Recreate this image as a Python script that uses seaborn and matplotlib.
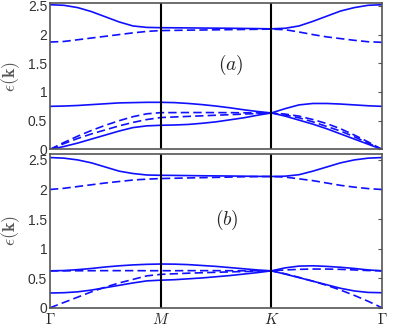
import numpy as np
import pandas as pd
import matplotlib
matplotlib.use("Agg")
import matplotlib.pyplot as plt
import seaborn as sns

# chemin Gamma - M - K - Gamma, pas de 1/8
k = np.linspace(0, 3, 25)

# panneau (a)
a_s4 = [2.52, 2.51, 2.47, 2.40, 2.31, 2.22, 2.15, 2.125, 2.12,
        2.118, 2.116, 2.114, 2.112, 2.11, 2.107, 2.104, 2.10,
        2.11, 2.15, 2.23, 2.32, 2.41, 2.47, 2.51, 2.52]
a_d4 = [1.87, 1.88, 1.91, 1.94, 1.97, 2.00, 2.03, 2.055, 2.07,
        2.073, 2.077, 2.08, 2.083, 2.086, 2.089, 2.092, 2.095,
        2.085, 2.045, 2.00, 1.96, 1.93, 1.90, 1.875, 1.865]
a_s3 = [0.75, 0.755, 0.765, 0.78, 0.795, 0.81, 0.815, 0.82, 0.82,
        0.815, 0.80, 0.78, 0.755, 0.725, 0.69, 0.66, 0.635,
        0.71, 0.775, 0.80, 0.80, 0.79, 0.775, 0.76, 0.75]
a_d3 = [0.0, 0.12, 0.23, 0.33, 0.42, 0.50, 0.57, 0.62, 0.64,
        0.641, 0.642, 0.642, 0.641, 0.64, 0.638, 0.636, 0.635,
        0.615, 0.58, 0.52, 0.45, 0.36, 0.25, 0.13, 0.0]
a_d2 = [0.0, 0.10, 0.19, 0.27, 0.34, 0.41, 0.47, 0.52, 0.555,
        0.565, 0.575, 0.585, 0.595, 0.605, 0.615, 0.625, 0.635,
        0.60, 0.55, 0.48, 0.40, 0.32, 0.22, 0.11, 0.0]
a_s1 = [0.0, 0.05, 0.11, 0.18, 0.25, 0.32, 0.38, 0.41, 0.42,
        0.425, 0.435, 0.455, 0.48, 0.515, 0.55, 0.595, 0.635,
        0.58, 0.51, 0.44, 0.36, 0.27, 0.18, 0.09, 0.0]

# panneau (b)
b_s4 = [2.54, 2.53, 2.50, 2.45, 2.38, 2.31, 2.27, 2.245, 2.24,
        2.238, 2.235, 2.232, 2.23, 2.228, 2.225, 2.222, 2.22,
        2.225, 2.25, 2.31, 2.38, 2.45, 2.50, 2.53, 2.54]
b_d4 = [2.0, 2.02, 2.05, 2.08, 2.11, 2.135, 2.16, 2.175, 2.185,
        2.19, 2.195, 2.20, 2.205, 2.21, 2.215, 2.218, 2.22,
        2.21, 2.18, 2.15, 2.11, 2.07, 2.04, 2.015, 2.0]
b_s3 = [0.625, 0.63, 0.645, 0.665, 0.69, 0.71, 0.725, 0.735, 0.74,
        0.738, 0.73, 0.715, 0.70, 0.68, 0.66, 0.64, 0.625,
        0.675, 0.705, 0.71, 0.70, 0.685, 0.665, 0.64, 0.625]
b_d3 = [0.625, 0.625, 0.626, 0.627, 0.628, 0.628, 0.628, 0.627, 0.627,
        0.627, 0.628, 0.628, 0.628, 0.627, 0.626, 0.625, 0.625,
        0.64, 0.65, 0.655, 0.655, 0.65, 0.64, 0.63, 0.625]
b_d2 = [0.0, 0.09, 0.18, 0.27, 0.35, 0.42, 0.48, 0.54, 0.565,
        0.575, 0.585, 0.593, 0.60, 0.607, 0.613, 0.62, 0.625,
        0.575, 0.515, 0.45, 0.38, 0.30, 0.21, 0.11, 0.0]
b_s1 = [0.25, 0.255, 0.27, 0.30, 0.34, 0.38, 0.42, 0.455, 0.467,
        0.475, 0.49, 0.505, 0.525, 0.545, 0.57, 0.595, 0.625,
        0.57, 0.51, 0.45, 0.39, 0.33, 0.285, 0.26, 0.255]

panels = {
    "a": [("s4", "solid", a_s4), ("d4", "dashed", a_d4), ("s3", "solid", a_s3),
          ("d3", "dashed", a_d3), ("d2", "dashed", a_d2), ("s1", "solid", a_s1)],
    "b": [("s4", "solid", b_s4), ("d4", "dashed", b_d4), ("s3", "solid", b_s3),
          ("d3", "dashed", b_d3), ("d2", "dashed", b_d2), ("s1", "solid", b_s1)],
}

yticks = [0, 0.5, 1, 1.5, 2, 2.5]
ytick_labels = ["0", "0.5", "1", "1.5", "2", "2.5"]
xticks = [0, 1, 2, 3]
xtick_labels = [r"$\Gamma$", r"$M$", r"$K$", r"$\Gamma$"]

sns.set_style("white")
plt.rcParams["font.family"] = ["Liberation Sans", "DejaVu Sans"]
plt.rcParams["mathtext.fontset"] = "cm"

fig = plt.figure(figsize=(4.15, 3.32), dpi=100)
ax_a = fig.add_axes([50 / 415, 1 - 149.4 / 332, 332 / 415, 146.4 / 332])
ax_b = fig.add_axes([50 / 415, 1 - 307.8 / 332, 332 / 415, 153.8 / 332])

for ax, name, ytop in [(ax_a, "a", 2.55), (ax_b, "b", 2.6)]:
    rows = []
    for band, kind, vals in panels[name]:
        for kk, e in zip(k, vals):
            rows.append({"k": kk, "e": e, "band": band, "kind": kind})
    df = pd.DataFrame(rows)
    sns.lineplot(data=df, x="k", y="e", units="band", style="kind",
                 estimator=None, color="#1010ff", lw=1.2, sort=False,
                 dashes={"solid": "", "dashed": (5, 2.5)}, legend=False, ax=ax)
    ax.axvline(1, color="k", lw=1.5)
    ax.axvline(2, color="k", lw=1.5)
    ax.set_xlim(0, 3)
    ax.set_ylim(0, ytop)
    ax.set_yticks(yticks)
    ax.set_yticklabels(ytick_labels)
    ax.tick_params(axis="y", direction="in", right=True, length=3,
                   color="#555555", labelsize=10, pad=2, labelcolor="#333333")
    ax.set_xticks(xticks)
    ax.tick_params(axis="x", length=0, pad=3)
    ax.set_xlabel("")
    ax.set_ylabel(r"$\epsilon(\mathbf{k})$", fontsize=13, labelpad=4, color="#555555")
    for sp in ax.spines.values():
        sp.set_color("#555555")
        sp.set_linewidth(1.2)

ax_a.set_xticklabels([])
ax_b.set_xticklabels(xtick_labels, fontsize=11)
ax_a.text(1.63, 1.47, r"$(a)$", fontsize=14, ha="center", va="center")
ax_b.text(1.6, 1.49, r"$(b)$", fontsize=14, ha="center", va="center")

fig.savefig("out.png", dpi=100)
